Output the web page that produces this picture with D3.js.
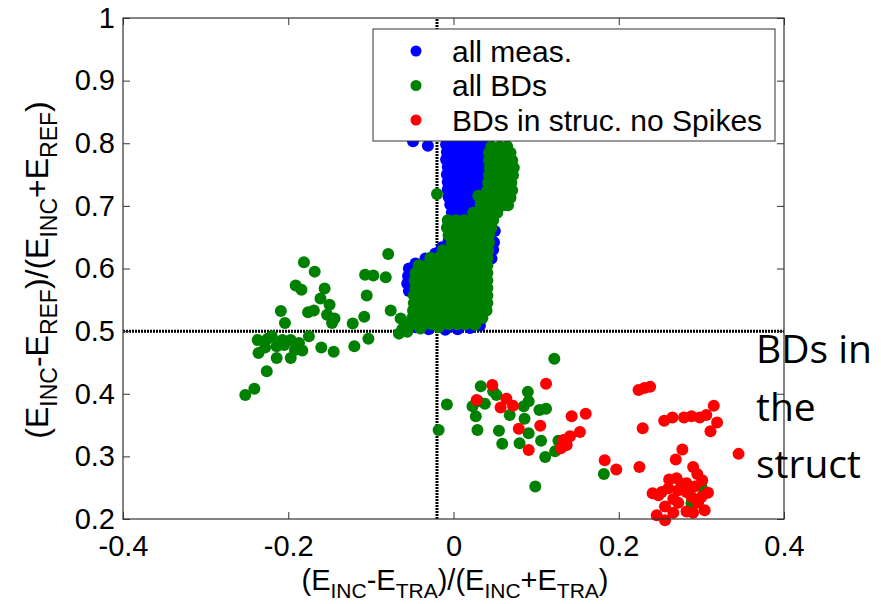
<!DOCTYPE html>
<html><head><meta charset="utf-8">
<script src="https://cdn.jsdelivr.net/npm/d3@7"></script>
<style>body{margin:0;background:#fff}</style></head>
<body>
<svg id="c" width="881" height="604"></svg>
<script>
const xTicks=[-0.4,-0.2,0,0.2,0.4];
const yTicks=[0.2,0.3,0.4,0.5,0.6,0.7,0.8,0.9,1];
const legendLabels=["all meas.","all BDs","BDs in struc. no Spikes"];
const seriesColors=["#0000ff","#008000","#ff0000"];
const refLineX=-0.02, refLineY=0.5;
const annotationLines=["BDs in","the","struct"];

const allMeas=[
[-0.009,0.834],[0.000,0.834],[0.009,0.834],[0.018,0.834],[0.027,0.834],[0.036,0.834],
[-0.009,0.822],[0.000,0.822],[0.009,0.822],[0.018,0.822],[0.027,0.822],[0.036,0.822],
[-0.008,0.810],[0.001,0.810],[0.010,0.810],[0.019,0.810],[0.028,0.810],[0.037,0.810],
[-0.009,0.798],[0.000,0.798],[0.009,0.798],[0.018,0.798],[0.027,0.798],[0.036,0.798],
[-0.008,0.786],[0.001,0.786],[0.010,0.786],[0.019,0.786],[0.028,0.786],[0.037,0.786],
[-0.009,0.774],[0.000,0.774],[0.009,0.774],[0.018,0.774],[0.027,0.774],[0.036,0.774],
[-0.007,0.762],[0.002,0.762],[0.011,0.762],[0.020,0.762],[0.029,0.762],[0.037,0.762],
[-0.008,0.750],[0.001,0.750],[0.010,0.750],[0.019,0.750],[0.028,0.750],[0.036,0.750],
[-0.007,0.738],[0.002,0.738],[0.011,0.738],[0.020,0.738],[0.029,0.738],[0.037,0.738],
[-0.007,0.726],[0.002,0.726],[0.011,0.726],[0.020,0.726],[0.029,0.726],[0.036,0.726],
[-0.006,0.714],[0.003,0.714],[0.012,0.714],[0.021,0.714],[0.030,0.714],[0.038,0.714],
[-0.004,0.702],[0.005,0.702],[0.014,0.702],[0.023,0.702],[0.032,0.702],[0.040,0.702],
[-0.002,0.690],[0.007,0.690],[0.016,0.690],[0.025,0.690],[0.034,0.690],[0.044,0.690],
[0.050,0.700],[0.050,0.690],[0.003,0.682],[0.020,0.680],[0.040,0.680],
[-0.049,0.803],[-0.031,0.796],
[-0.054,0.600],[-0.055,0.588],[-0.056,0.576],[-0.054,0.564],[-0.046,0.608],
[-0.034,0.616],[-0.022,0.624],[-0.014,0.634],[-0.006,0.644],[-0.004,0.654],
[-0.046,0.506],[-0.030,0.503],[-0.010,0.502],[0.005,0.503],[0.020,0.505],[0.032,0.509],
[0.048,0.630],[0.049,0.642],[0.046,0.616],[0.050,0.660]
];

const allBDs=[
[0.046,0.795],[0.056,0.795],[0.065,0.795],
[0.043,0.785],[0.052,0.785],[0.061,0.785],[0.069,0.785],
[0.043,0.773],[0.052,0.773],[0.061,0.773],[0.071,0.773],
[0.044,0.761],[0.053,0.761],[0.062,0.761],[0.073,0.761],
[0.043,0.749],[0.052,0.749],[0.061,0.749],[0.072,0.749],
[0.042,0.737],[0.051,0.737],[0.060,0.737],[0.070,0.737],
[0.041,0.725],[0.050,0.725],[0.060,0.725],[0.071,0.725],
[0.040,0.713],[0.049,0.713],[0.058,0.713],[0.069,0.713],
[0.033,0.701],[0.042,0.701],[0.051,0.701],[0.060,0.701],[0.066,0.701],
[0.024,0.689],[0.034,0.689],[0.044,0.689],[0.053,0.689],
[-0.007,0.677],[0.003,0.677],[0.013,0.677],[0.023,0.677],[0.033,0.677],[0.043,0.677],[0.048,0.677],
[-0.008,0.665],[0.002,0.665],[0.012,0.665],[0.022,0.665],[0.032,0.665],[0.042,0.665],[0.046,0.665],
[-0.006,0.653],[0.004,0.653],[0.014,0.653],[0.024,0.653],[0.034,0.653],[0.043,0.653],
[-0.002,0.641],[0.008,0.641],[0.018,0.641],[0.028,0.641],[0.038,0.641],[0.043,0.641],
[-0.013,0.629],[-0.003,0.629],[0.007,0.629],[0.017,0.629],[0.027,0.629],[0.037,0.629],[0.042,0.629],
[-0.028,0.617],[-0.018,0.617],[-0.008,0.617],[0.002,0.617],[0.012,0.617],[0.022,0.617],[0.032,0.617],[0.041,0.617],
[-0.042,0.605],[-0.032,0.605],[-0.022,0.605],[-0.012,0.605],[-0.002,0.605],[0.008,0.605],[0.018,0.605],[0.028,0.605],[0.038,0.605],[0.041,0.605],
[-0.046,0.593],[-0.036,0.593],[-0.026,0.593],[-0.016,0.593],[-0.006,0.593],[0.004,0.593],[0.014,0.593],[0.024,0.593],[0.034,0.593],[0.041,0.593],
[-0.047,0.581],[-0.037,0.581],[-0.027,0.581],[-0.017,0.581],[-0.007,0.581],[0.003,0.581],[0.013,0.581],[0.023,0.581],[0.033,0.581],[0.041,0.581],
[-0.046,0.569],[-0.036,0.569],[-0.026,0.569],[-0.016,0.569],[-0.006,0.569],[0.004,0.569],[0.014,0.569],[0.024,0.569],[0.034,0.569],[0.041,0.569],
[-0.048,0.557],[-0.038,0.557],[-0.028,0.557],[-0.018,0.557],[-0.008,0.557],[0.002,0.557],[0.012,0.557],[0.022,0.557],[0.032,0.557],[0.041,0.557],
[-0.048,0.545],[-0.037,0.545],[-0.027,0.545],[-0.017,0.545],[-0.007,0.545],[0.003,0.545],[0.013,0.545],[0.023,0.545],[0.033,0.545],[0.041,0.545],
[-0.049,0.533],[-0.038,0.533],[-0.028,0.533],[-0.018,0.533],[-0.008,0.533],[0.002,0.533],[0.012,0.533],[0.022,0.533],[0.032,0.533],[0.040,0.533],
[-0.050,0.521],[-0.040,0.521],[-0.030,0.521],[-0.020,0.521],[-0.010,0.521],[0.000,0.521],[0.010,0.521],[0.020,0.521],[0.030,0.521],[0.035,0.521],
[-0.058,0.511],[-0.046,0.511],[-0.036,0.511],[-0.026,0.511],[-0.016,0.511],[-0.006,0.511],[0.004,0.511],[0.014,0.511],[0.026,0.511],
[-0.062,0.503],[-0.040,0.504],[-0.018,0.506],[0.026,0.510],[-0.020,0.719],[0.030,0.716],[0.033,0.706],
[-0.181,0.610],[-0.168,0.595],[-0.191,0.573],[-0.184,0.566],[-0.156,0.568],[-0.161,0.552],[-0.150,0.542],
[-0.209,0.532],[-0.204,0.513],[-0.176,0.530],[-0.169,0.533],[-0.153,0.526],[-0.144,0.520],[-0.147,0.513],
[-0.122,0.512],[-0.108,0.523],[-0.105,0.557],[-0.107,0.590],[-0.097,0.589],[-0.082,0.586],[-0.079,0.623],
[-0.076,0.533],[-0.064,0.520],[-0.066,0.496],[-0.056,0.499],[-0.103,0.488],[-0.120,0.476],[-0.145,0.467],
[-0.160,0.474],[-0.175,0.492],[-0.183,0.469],[-0.237,0.486],[-0.236,0.465],[-0.220,0.492],[-0.214,0.476],
[-0.207,0.486],[-0.197,0.486],[-0.187,0.481],[-0.214,0.457],[-0.197,0.457],[-0.226,0.436],[-0.241,0.408],
[-0.252,0.398],[-0.225,0.488],[-0.205,0.478],[-0.192,0.470],[-0.228,0.474],
[0.122,0.456],[0.033,0.412],[-0.008,0.383],[-0.018,0.342],[0.023,0.380],[0.030,0.388],[0.038,0.384],
[0.027,0.364],[0.029,0.342],[0.048,0.404],[0.052,0.398],[0.068,0.366],[0.055,0.341],[0.059,0.320],
[0.080,0.321],[0.090,0.403],[0.091,0.388],[0.085,0.380],[0.086,0.360],[0.091,0.337],[0.104,0.374],
[0.112,0.376],[0.106,0.325],[0.111,0.299],[0.123,0.308],[0.127,0.325],[0.099,0.252],[0.182,0.272],
[0.300,0.252],[0.288,0.225]
];

const bdsInStruc=[
[0.047,0.414],[0.028,0.390],[0.064,0.392],[0.057,0.378],[0.072,0.381],[0.112,0.416],[0.079,0.344],
[0.105,0.349],[0.091,0.310],[0.143,0.364],[0.160,0.368],[0.153,0.339],[0.141,0.332],[0.133,0.326],
[0.137,0.318],[0.130,0.313],[0.134,0.324],[0.224,0.406],[0.231,0.409],[0.238,0.411],[0.315,0.381],
[0.319,0.354],[0.311,0.340],[0.306,0.366],[0.298,0.362],[0.288,0.364],[0.279,0.362],[0.265,0.362],
[0.255,0.357],[0.229,0.345],[0.345,0.304],[0.277,0.311],[0.269,0.295],[0.290,0.283],[0.183,0.294],
[0.197,0.279],[0.225,0.283],[0.241,0.241],[0.252,0.243],[0.261,0.263],[0.270,0.265],[0.260,0.249],
[0.272,0.246],[0.282,0.257],[0.292,0.252],[0.301,0.262],[0.308,0.242],[0.300,0.235],[0.288,0.235],
[0.282,0.243],[0.296,0.226],[0.304,0.214],[0.282,0.212],[0.290,0.210],[0.266,0.210],[0.256,0.220],
[0.246,0.206],[0.256,0.198],[0.272,0.226],[0.248,0.238],[0.295,0.272],[0.276,0.256],[0.266,0.232]
];

const svg=d3.select("#c");
const L=123,R=784,T=18,B=519;
const x=d3.scaleLinear().domain([-0.4,0.4]).range([L,R]);
const y=d3.scaleLinear().domain([0.2,1]).range([B,T]);
const FONT="'Liberation Sans', Arial, sans-serif";
const r=6;
const fmt=d=>String(d);

// reference dotted lines
svg.append("line").attr("x1",x(refLineX)).attr("x2",x(refLineX)).attr("y1",y(0.2)).attr("y2",y(1))
  .attr("stroke","#000").attr("stroke-width",3).attr("stroke-dasharray","2,1");
svg.append("line").attr("x1",x(-0.4)).attr("x2",x(0.4)).attr("y1",y(refLineY)).attr("y2",y(refLineY))
  .attr("stroke","#000").attr("stroke-width",3).attr("stroke-dasharray","2,1");

const series=[allMeas,allBDs,bdsInStruc];
series.forEach((pts,i)=>{
  svg.append("g").selectAll("circle").data(pts).join("circle")
    .attr("cx",d=>x(d[0])).attr("cy",d=>y(d[1])).attr("r",r).attr("fill",seriesColors[i]);
});

// axes
const gx=svg.append("g").attr("transform",`translate(0,${B})`)
  .call(d3.axisBottom(x).tickValues(xTicks).tickSizeInner(-7).tickSizeOuter(0).tickPadding(16).tickFormat(fmt));
const gy=svg.append("g").attr("transform",`translate(${L},0)`)
  .call(d3.axisLeft(y).tickValues(yTicks).tickSizeInner(-7).tickSizeOuter(0).tickPadding(8).tickFormat(fmt));
const gt=svg.append("g").attr("transform",`translate(0,${T})`)
  .call(d3.axisTop(x).tickValues(xTicks).tickSizeInner(-7).tickSizeOuter(0).tickFormat(""));
const gr=svg.append("g").attr("transform",`translate(${R},0)`)
  .call(d3.axisRight(y).tickValues(yTicks).tickSizeInner(-7).tickSizeOuter(0).tickFormat(""));
[gx,gy,gt,gr].forEach(g=>{
  g.select(".domain").remove();
  g.selectAll(".tick line").attr("stroke","#333");
  g.selectAll("text").attr("font-family",FONT).attr("font-size",29).attr("fill","#000");
});
svg.append("rect").attr("x",L).attr("y",T).attr("width",R-L).attr("height",B-T)
  .attr("fill","none").attr("stroke","#333").attr("stroke-width",1.2);

// legend
const lg=svg.append("g");
lg.append("rect").attr("x",373).attr("y",29).attr("width",402).attr("height",112)
  .attr("fill","#fff").attr("stroke","#333").attr("stroke-width",1);
legendLabels.forEach((t,i)=>{
  const cy=51+i*34.5;
  lg.append("circle").attr("cx",416).attr("cy",cy).attr("r",5.5).attr("fill",seriesColors[i]);
  lg.append("text").attr("x",452).attr("y",cy).attr("dy","0.35em").attr("font-family",FONT)
    .attr("font-size",30).text(t);
});

// axis titles
function label(g,parts,fs,ss,sh){
  const t=g.append("text").attr("font-family",FONT).attr("font-size",fs).attr("text-anchor","middle");
  parts.forEach(p=>{
    if(p[1]) t.append("tspan").attr("font-size",ss).attr("dy",sh).text(p[0]);
    else t.append("tspan").attr("dy",p[2]?-sh:0).text(p[0]);
  });
  return t;
}
label(svg.append("g").attr("transform","translate(455,590)"),
  [["(E"],["INC",1],["-E",0,1],["TRA",1],[")/(E",0,1],["INC",1],["+E",0,1],["TRA",1],[")",0,1]],29,21,8);
label(svg.append("g").attr("transform","translate(48,270) rotate(-90)"),
  [["(E"],["INC",1],["-E",0,1],["REF",1],[")/(E",0,1],["INC",1],["+E",0,1],["REF",1],[")",0,1]],32,23,9);

// annotation
annotationLines.forEach((t,i)=>{
  svg.append("text").attr("x",756).attr("y",363+i*57.5).attr("font-family","'Open Sans', sans-serif")
    .attr("font-size",39).attr("fill","#000").text(t);
});
</script>
</body></html>
